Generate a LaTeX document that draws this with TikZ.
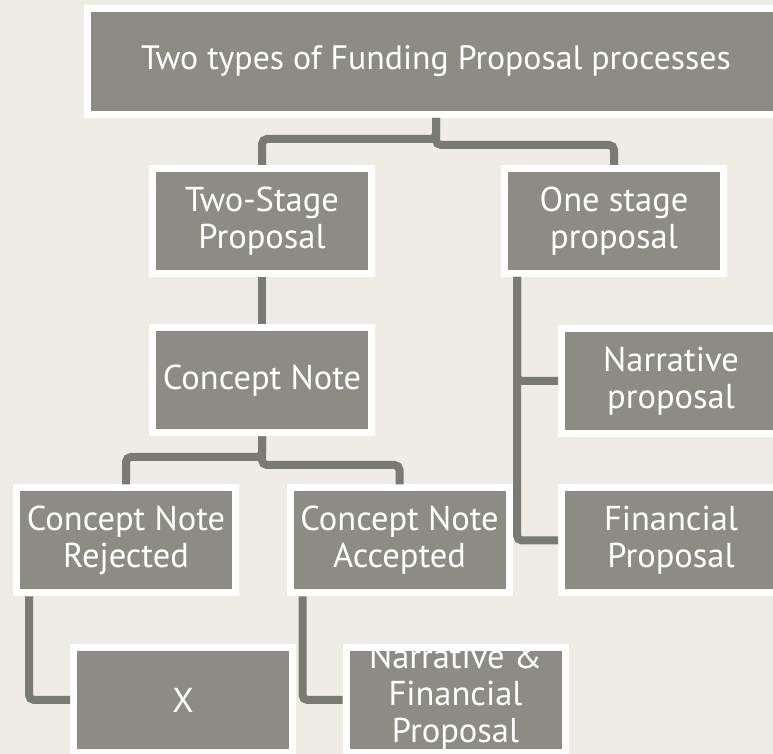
\documentclass[tikz,border=0pt]{standalone}
\usepackage{fontspec}
\setmainfont{PT Sans}
\usetikzlibrary{positioning}

\definecolor{paper}{RGB}{238,236,229}
\definecolor{boxgray}{RGB}{140,140,132}
\definecolor{linkgray}{RGB}{121,122,115}

\begin{document}
\begin{tikzpicture}[
    x=1pt, y=1pt,
    node distance=47.5pt,
    % Box styles
    box/.style={draw=white, fill=boxgray, line width=7pt, rectangle, minimum width=219pt, minimum height=105pt, align=center, text=white, font=\fontsize{34.5}{37}\selectfont},
    headbox/.style={box, minimum width=697.5pt, minimum height=106pt, font=\fontsize{33.8}{38}\selectfont},
    % Connector style
    link/.style={draw=linkgray, line width=8pt, rounded corners=5pt}
]

    % Page and background
    \useasboundingbox (0,0) rectangle (773,754);
    \fill[paper] (0,0) rectangle (773,754);

    % ==================== Boxes ====================
    \node (head) at (436, 692.5) [headbox] {Two types of Funding Proposal processes};

    \node (twostage) at (262, 533) [box] {Two-Stage\\Proposal};
    \node (onestage) at (614, 533) [box] {One stage\\proposal};

    \node (concept) [box, below=of twostage] {Concept Note};
    \node (narrative) at (671, 373) [box] {Narrative\\proposal};
    \node (financial) [box, below=of narrative] {Financial\\Proposal};

    \node (rejected) at (126, 213.5) [box] {Concept Note\\Rejected};
    \node (accepted) [box, right=of rejected] {Concept Note\\Accepted};

    \node (xbox) at (183, 54) [box] {X};
    \node (narrfin) [box, right=46.5pt of xbox] {\parbox[c][0pt][c]{212pt}{\centering Narrative \&\\Financial\\Proposal}};

    % ==================== Connectors ====================
    \coordinate (split_left) at (436, 615);
    \coordinate (split_right) at (436, 609);
    \draw [link] (head.south) -- (split_left) -| (twostage.north);
    \draw [link] (head.south) -- (split_right) -| (onestage.north);

    \draw [link] (twostage) -- (concept);

    \coordinate (cn_left) at (262, 297);
    \coordinate (cn_right) at (262, 289);
    \draw [link] (concept.south) -- (cn_left) -| (rejected.north);
    \draw [link] (concept.south) -- (cn_right) -| (accepted.north);

    % Side rails down the left edge of a box
    \draw [link] ([xshift=16pt]rejected.south west) |- (xbox.west);
    \draw [link] ([xshift=16pt]accepted.south west) |- (narrfin.west);
    \draw [link] ([xshift=16pt]onestage.south west) |- (narrative.west);
    \draw [link] ([xshift=16pt]onestage.south west) |- (financial.west);

\end{tikzpicture}
\end{document}
